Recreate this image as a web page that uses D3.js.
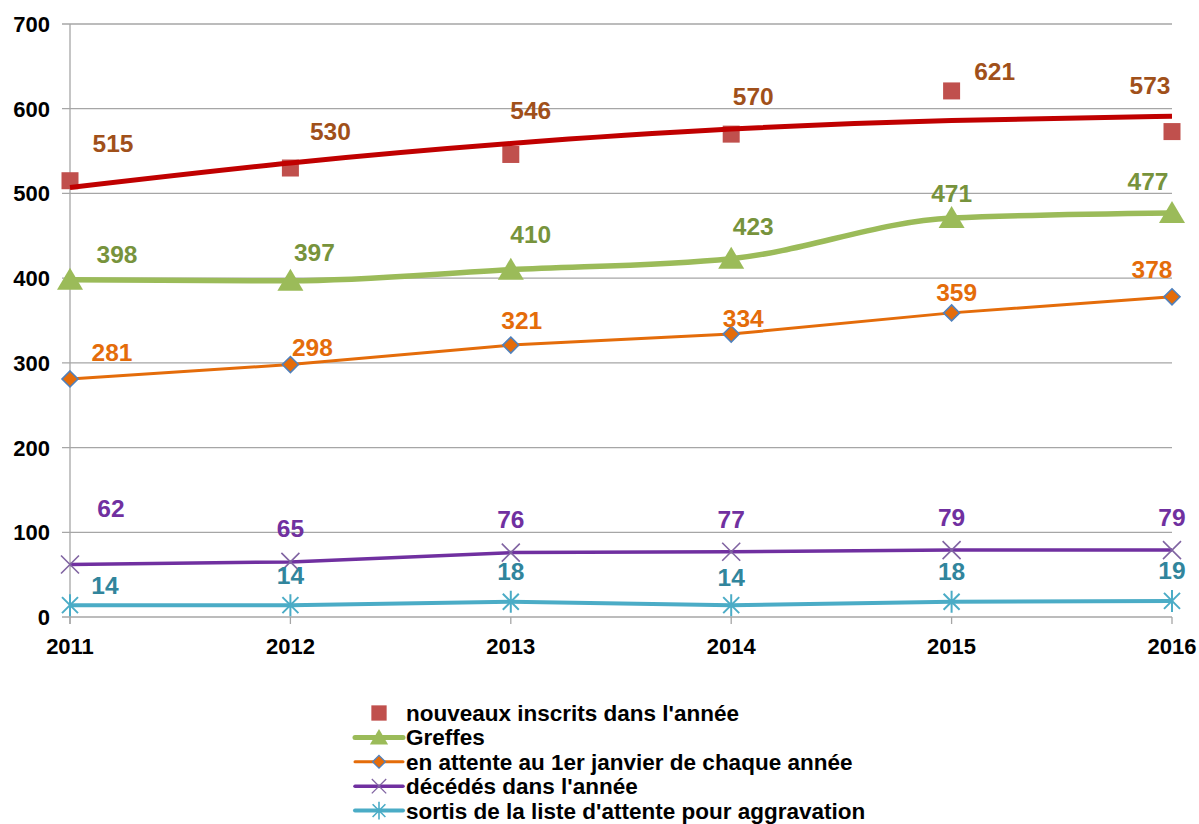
<!DOCTYPE html>
<html><head><meta charset="utf-8">
<script src="https://cdn.jsdelivr.net/npm/d3@7"></script>
<style>
body{margin:0;background:#fff;}
text{font-family:"Liberation Sans",Arial,sans-serif;font-weight:bold;}
</style></head>
<body><svg id="c" width="1199" height="824"></svg>
<script>
const years = [2011, 2012, 2013, 2014, 2015, 2016];
const yTicks = [0, 100, 200, 300, 400, 500, 600, 700];
const nouveaux = [515, 530, 546, 570, 621, 573];
const nouveauxTrend = [507, 536, 559, 576, 586, 591];
const greffes = [398, 397, 410, 423, 471, 477];
const enAttente = [281, 298, 321, 334, 359, 378];
const decedes = [62, 65, 76, 77, 79, 79];
const sortis = [14, 14, 18, 14, 18, 19];
const legendLabels = ["nouveaux inscrits dans l'année", "Greffes", "en attente au 1er janvier de chaque année", "décédés dans l'année", "sortis de la liste d'attente pour aggravation"];

// label offsets (layout only)
const offRed = [[43,-38],[40,-37],[20,-44],[22,-38],[43,-20],[-22,-47]];
const offGreen = [[47,-26],[24,-29],[20,-36],[22,-33],[0,-25],[-24,-32]];
const offOrange = [[42,-27],[22,-18],[11,-25],[12,-16],[5,-21],[-20,-28]];
const offPurple = [[41,-56],[0,-34],[0,-34],[0,-33],[0,-33],[0,-33]];
const offCyan = [[35,-20],[0,-30],[0,-31],[0,-28],[0,-31],[0,-31]];

const svg = d3.select("#c");
const x = d3.scalePoint().domain(years).range([70, 1172]);
const y = d3.scaleLinear().domain([0, 700]).range([617, 24]);

svg.append("g").selectAll("line").data(yTicks).join("line")
  .attr("x1", 62).attr("x2", 1172)
  .attr("y1", d => y(d)).attr("y2", d => y(d))
  .attr("stroke", "#a6a6a6").attr("stroke-width", 1.3);
svg.append("line").attr("x1", 70).attr("x2", 70).attr("y1", 24).attr("y2", 624)
  .attr("stroke", "#a6a6a6").attr("stroke-width", 1.3);
svg.append("g").selectAll("line").data(years).join("line")
  .attr("x1", d => x(d)).attr("x2", d => x(d)).attr("y1", 617).attr("y2", 624)
  .attr("stroke", "#a6a6a6").attr("stroke-width", 1.3);
svg.append("g").selectAll("text").data(yTicks).join("text")
  .attr("x", 50).attr("y", d => y(d) + 8).attr("text-anchor", "end")
  .attr("font-size", 22).attr("fill", "#000").text(d => d);
svg.append("g").selectAll("text").data(years).join("text")
  .attr("x", d => x(d)).attr("y", 654).attr("text-anchor", "middle")
  .attr("font-size", 22).attr("fill", "#000").text(d => d);

const line = d3.line().x((d, i) => x(years[i])).y(d => y(d));

function drawLabels(vals, offs, color) {
  svg.append("g").selectAll("text").data(vals).join("text")
    .attr("x", (d, i) => x(years[i]) + offs[i][0])
    .attr("y", (d, i) => y(d) + offs[i][1] + 9)
    .attr("text-anchor", "middle").attr("font-size", 24.5).attr("fill", color)
    .text(d => d);
}

const markerFns = {
  square: (g) => g.append("rect").attr("x", -8.5).attr("y", -8.5).attr("width", 17).attr("height", 17).attr("fill", "#c0504d"),
  triangle: (g) => g.append("path").attr("d", "M0,-12L13,10L-13,10Z").attr("fill", "#9bbb59"),
  diamond: (g) => g.append("path").attr("d", "M0,-8L8,0L0,8L-8,0Z").attr("fill", "#e46c0a").attr("stroke", "#4f81bd").attr("stroke-width", 1.6),
  cross: (g) => g.append("path").attr("d", "M-9,-9L9,9M-9,9L9,-9").attr("stroke", "#8064a2").attr("stroke-width", 1.6).attr("fill", "none"),
  star: (g) => g.append("path").attr("d", "M-8,-8L8,8M-8,8L8,-8M0,-11L0,11").attr("stroke", "#4bacc6").attr("stroke-width", 2).attr("fill", "none")
};

function drawMarkers(vals, type) {
  const g = svg.append("g");
  vals.forEach((v, i) => {
    const m = g.append("g").attr("transform", `translate(${x(years[i])},${y(v)})`);
    markerFns[type](m);
  });
}

svg.append("path").datum(sortis).attr("d", line).attr("fill", "none").attr("stroke", "#4bacc6").attr("stroke-width", 4);
drawMarkers(sortis, "star");
svg.append("path").datum(decedes).attr("d", line).attr("fill", "none").attr("stroke", "#7030a0").attr("stroke-width", 3.5);
drawMarkers(decedes, "cross");
svg.append("path").datum(enAttente).attr("d", line).attr("fill", "none").attr("stroke", "#e46c0a").attr("stroke-width", 3);
drawMarkers(enAttente, "diamond");
svg.append("path").datum(greffes).attr("d", d3.line().x((d, i) => x(years[i])).y(d => y(d)).curve(d3.curveMonotoneX))
  .attr("fill", "none").attr("stroke", "#9bbb59").attr("stroke-width", 5.5);
drawMarkers(greffes, "triangle");
drawMarkers(nouveaux, "square");
svg.append("path").datum(nouveauxTrend).attr("d", d3.line().x((d, i) => x(years[i])).y(d => y(d)).curve(d3.curveNatural))
  .attr("fill", "none").attr("stroke", "#c00000").attr("stroke-width", 5);

drawLabels(nouveaux, offRed, "#a0501a");
drawLabels(greffes, offGreen, "#77933c");
drawLabels(enAttente, offOrange, "#e46c0a");
drawLabels(decedes, offPurple, "#7030a0");
drawLabels(sortis, offCyan, "#31859c");

const legendTypes = ["square", "triangle", "diamond", "cross", "star"];
const legendLine = [null, ["#9bbb59", 5], ["#e46c0a", 3], ["#7030a0", 3.5], ["#4bacc6", 4]];
const lg = svg.append("g");
legendLabels.forEach((lab, i) => {
  const cy = 713 + i * 24.4;
  if (legendLine[i]) {
    lg.append("line").attr("x1", 355).attr("x2", 403).attr("y1", cy).attr("y2", cy)
      .attr("stroke", legendLine[i][0]).attr("stroke-width", legendLine[i][1]).attr("stroke-linecap", "round");
  }
  const m = lg.append("g").attr("transform", `translate(379,${cy})` + (i === 1 ? " scale(0.7)" : i === 0 ? " scale(0.9)" : " scale(0.8)"));
  markerFns[legendTypes[i]](m);
  lg.append("text").attr("x", 406).attr("y", cy + 8).attr("font-size", 22.5).attr("fill", "#000").text(lab);
});
</script></body></html>
